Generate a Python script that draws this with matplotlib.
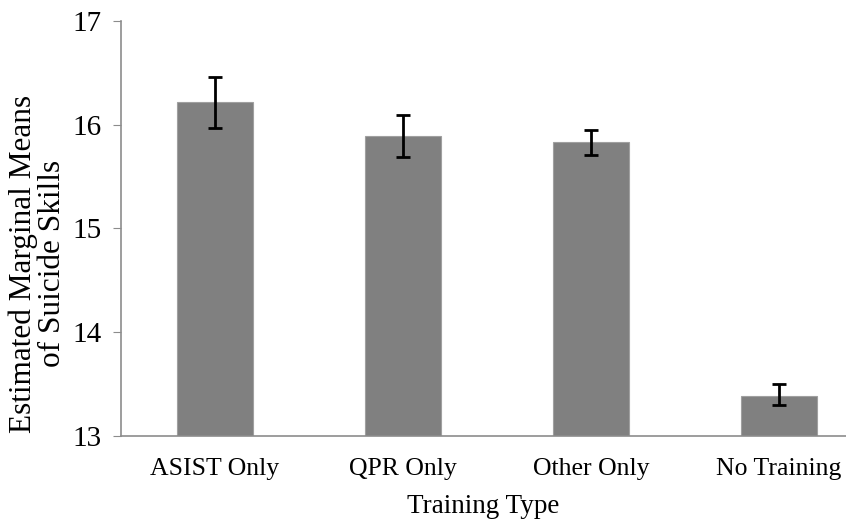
import matplotlib.pyplot as plt

categories = ['ASIST Only', 'QPR Only', 'Other Only', 'No Training']
means = [16.22, 15.89, 15.83, 13.39]
err_low = [15.97, 15.69, 15.71, 13.30]
err_high = [16.46, 16.09, 15.95, 13.50]

plt.rcParams['font.family'] = 'Liberation Serif'

fig = plt.figure(figsize=(8.46, 5.21), dpi=100)
ax = fig.add_axes([0.143, 0.163, 0.857, 0.797])

x = range(len(categories))
yerr = [[m - lo for m, lo in zip(means, err_low)],
        [hi - m for m, hi in zip(means, err_high)]]

ax.bar(x, means, width=0.4, color='#808080', edgecolor='#a0a0a0', linewidth=0.8)
ax.errorbar(x, means, yerr=yerr, fmt='none', ecolor='black', elinewidth=2,
            capsize=5, capthick=2)

ax.set_ylim(13, 17)
ax.set_xlim(-0.5, 3.356)
ax.set_yticks([13, 14, 15, 16, 17])
ax.set_xticks(list(x))
ax.set_xticklabels(categories)

for s in ['top', 'right']:
    ax.spines[s].set_visible(False)
for s in ['left', 'bottom']:
    ax.spines[s].set_color('#8c8c8c')
    ax.spines[s].set_linewidth(1.2)

ax.tick_params(axis='y', direction='out', length=6, color='#8c8c8c',
               labelsize=21, pad=8)
ax.tick_params(axis='x', length=0, labelsize=18.5, pad=16)

ax.set_xlabel('Training Type', fontsize=19.5, labelpad=10)
ax.set_ylabel('Estimated Marginal Means\nof Suicide Skills', fontsize=22.5,
              linespacing=1.0)
ax.yaxis.set_label_coords(-0.074, 0.415)

plt.savefig('out.png', dpi=100)
